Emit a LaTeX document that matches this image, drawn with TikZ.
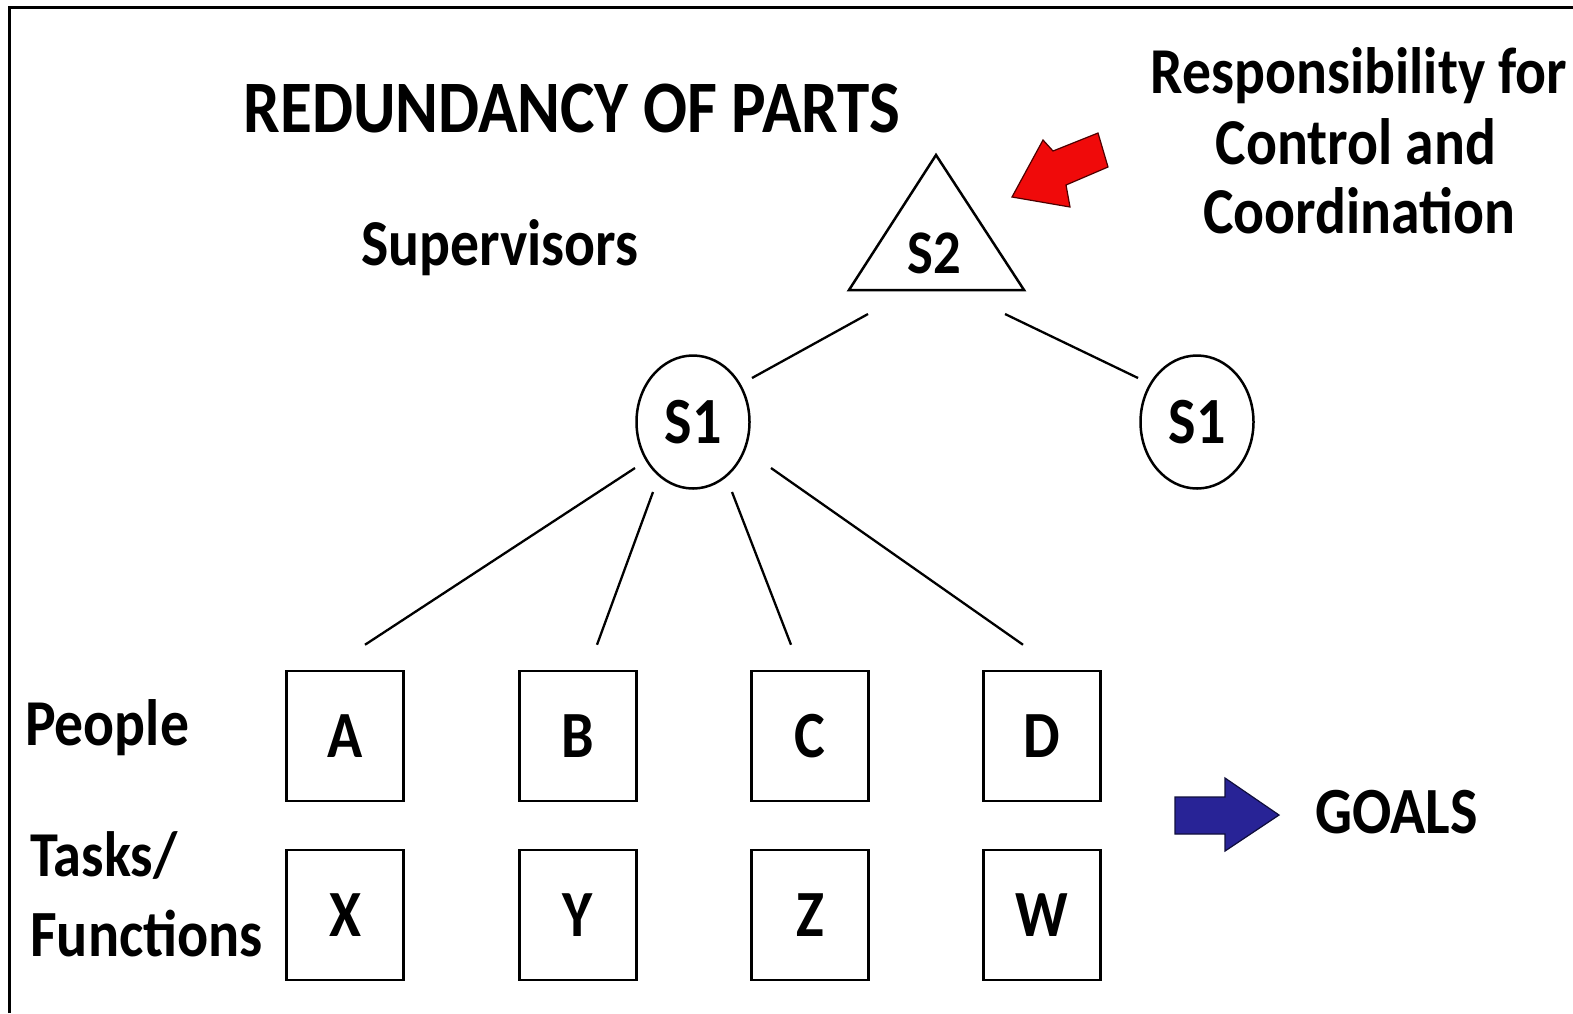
\documentclass[tikz,border=0pt]{standalone}
\usepackage{fontspec}
\newfontfamily\cf[FakeStretch=0.88]{Carlito Bold}
\usetikzlibrary{calc,shapes.geometric}
\definecolor{arrred}{RGB}{240,10,10}
\definecolor{arrblue}{RGB}{40,35,150}
\begin{document}
\begin{tikzpicture}[x=1pt,y=-1pt,
  fsz/.style={font=\cf\fontsize{#1}{#1}\selectfont},
  box/.style={draw, line width=2.5pt, minimum width=117pt, minimum height=130pt, inner sep=0pt, fsz=66},
  circ/.style={draw, ellipse, line width=2.5pt, minimum width=113pt, minimum height=133pt, inner sep=0pt, fsz=66},
  lbl/.style={inner sep=0pt},
  conn/.style={line width=2.3pt},
  blockarrow/.style={line width=1.2pt, line join=miter}]
\useasboundingbox (0,0) rectangle (1573,1013);
% frame
\draw[line width=3pt] (9,1013) -- (9,7) -- (1573,7);
% titles
\node[lbl, fsz=74, anchor=base] (title) at (572,132) {REDUNDANCY OF PARTS};
\node[lbl, fsz=65.5, anchor=base] (sup) at (500,265) {Supervisors};
\node[lbl, fsz=65.5, anchor=base] (resp1) at (1359,93) {Responsibility for};
\node[lbl, fsz=65.5, anchor=base] (resp2) at (1356,164) {Control and};
\node[lbl, fsz=65.5, anchor=base] (resp3) at (1359,233) {Coordination};
% triangle S2
\draw[line width=2.5pt, line join=miter] (936,155) -- (1024,290) -- (849,290) -- cycle;
\node[lbl, fsz=62] (s2) at (934,253) {S2};
% red arrow
\draw[blockarrow, draw=black!70!red, fill=arrred] (1012,197) -- (1043,140) -- (1053,151) -- (1098,133) -- (1108,167) -- (1066,185) -- (1070,207) -- cycle;
% S1 circles
\node[circ] (s1a) at (693,422) {S1};
\node[circ] (s1b) at (1197,422) {S1};
% boxes
\node[box] (A) at (345,736) {A};
\node[box] (B) at (578,736) {B};
\node[box] (C) at (810,736) {C};
\node[box] (D) at (1042,736) {D};
\node[box] (X) at (345,915) {X};
\node[box] (Y) at (578,915) {Y};
\node[box] (Z) at (810,915) {Z};
\node[box] (W) at (1042,915) {W};
% connectors
\draw[conn] ($(s2)+(-66,61)$) -- ($(s1a)+(59,-44)$);
\draw[conn] ($(s2)+(71,61)$) -- ($(s1b)+(-59,-44)$);
\draw[conn] ($(s1a)+(-58,46)$) -- ($(A.north)+(20,-25)$);
\draw[conn] ($(s1a)+(-40,70)$) -- ($(B.north)+(19,-25)$);
\draw[conn] ($(s1a)+(39,70)$) -- ($(C.north)+(-19,-25)$);
\draw[conn] ($(s1a)+(78,46)$) -- ($(D.north)+(-19,-25)$);
% side labels
\node[lbl, fsz=65.5, anchor=base west] (people) at (25,745) {People};
\node[lbl, fsz=64, anchor=base west] (tasks) at (30,876) {Tasks/};
\node[lbl, fsz=66, anchor=base west] (func) at (30,956) {Functions};
% blue arrow and goals
\draw[blockarrow, draw=black!60!arrblue, fill=arrblue] (1175,797) -- (1225,797) -- (1225,778) -- (1279,815) -- (1225,851) -- (1225,834) -- (1175,834) -- cycle;
\node[lbl, fsz=66, anchor=base west] (goals) at (1315,833) {GOALS};
\end{tikzpicture}
\end{document}
